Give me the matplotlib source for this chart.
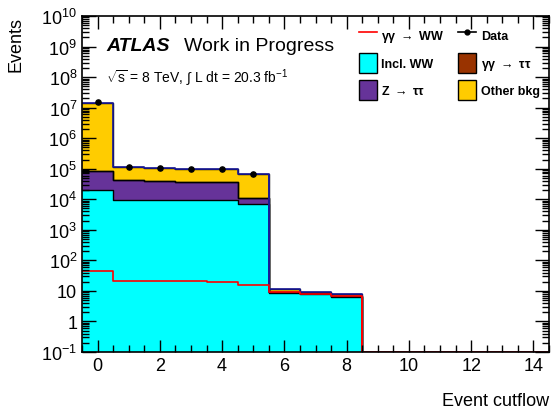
import matplotlib
matplotlib.use("Agg")
import matplotlib.pyplot as plt
import numpy as np
from matplotlib.lines import Line2D
from matplotlib.patches import Patch
from matplotlib.ticker import LogLocator, MultipleLocator, FuncFormatter

plt.rcParams['font.family'] = ['Liberation Sans', 'DejaVu Sans']
plt.rcParams['mathtext.fontset'] = 'custom'
plt.rcParams['mathtext.rm'] = 'Liberation Sans'
plt.rcParams['mathtext.it'] = 'Liberation Sans:italic'
plt.rcParams['mathtext.bf'] = 'Liberation Sans:bold'
# ROOT-style ticks on all four sides, pointing in
plt.rcParams['xtick.direction'] = 'in'
plt.rcParams['ytick.direction'] = 'in'
plt.rcParams['xtick.top'] = True
plt.rcParams['ytick.right'] = True
plt.rcParams['xtick.major.size'] = 9
plt.rcParams['xtick.minor.size'] = 5
plt.rcParams['ytick.major.size'] = 10
plt.rcParams['ytick.minor.size'] = 5
plt.rcParams['xtick.major.width'] = 1
plt.rcParams['xtick.minor.width'] = 1
plt.rcParams['ytick.major.width'] = 1
plt.rcParams['ytick.minor.width'] = 1
plt.rcParams['xtick.labelsize'] = 13
plt.rcParams['ytick.labelsize'] = 13
plt.rcParams['axes.axisbelow'] = False

# cutflow bins 0..14
edges = np.arange(-0.5, 15.0, 1.0)
incl_ww = np.array([2.05e4, 9.7e3, 9.6e3, 9.4e3, 9.2e3, 7.0e3, 8.3, 7.8, 6.3, 0, 0, 0, 0, 0, 0])
z_tautau = np.array([6.2e4, 3.2e4, 2.9e4, 2.8e4, 2.7e4, 3.7e3, 0.5, 0.4, 0.3, 0, 0, 0, 0, 0, 0])
aa_tautau = np.array([20, 10, 10, 10, 9, 8, 0.3, 0.2, 0.2, 0, 0, 0, 0, 0, 0])
other_bkg = np.array([1.44e7, 7.0e4, 6.6e4, 6.3e4, 6.4e4, 5.6e4, 2.0, 1.0, 1.2, 0, 0, 0, 0, 0, 0])
aa_ww = np.array([44, 21.6, 21, 20.5, 20, 16, 9, 8.1, 6.9, 0, 0, 0, 0, 0, 0])
data_x = np.array([0, 1, 2, 3, 4, 5])
data_y = np.array([1.5e7, 1.1e5, 1.05e5, 1.0e5, 1.0e5, 6.5e4])

c_ww = '#00ffff'
c_ztt = '#663399'
c_aatt = '#993300'
c_other = '#ffcc00'


def ext(v):
    # repeat last bin so step='post' covers the full last bin
    return np.append(v, v[-1])


def fmt(v, pos):
    e = int(round(np.log10(v)))
    if e == 0:
        return '1'
    if e == 1:
        return '10'
    return r'$10^{%d}$' % e


fig = plt.figure(figsize=(5.52, 4.10), dpi=100)
ax = fig.add_axes([0.1486, 0.139, 0.8460, 0.8195])
ax.set_yscale('log')

ymin = 0.1
base = np.full(len(incl_ww), ymin)
for vals, col in [(incl_ww, c_ww), (z_tautau, c_ztt), (aa_tautau, c_aatt), (other_bkg, c_other)]:
    top = base + vals
    ax.fill_between(edges, ext(base), ext(top), step='post', color=col, lw=0, zorder=1)
    ax.step(edges, ext(top), where='post', color='black', lw=1, zorder=1.2)
    base = top

total = base
ax.step(edges, ext(total), where='post', color='#1a1a99', lw=1.2, zorder=1.3)
ax.vlines(5.5, incl_ww[6] + ymin, total[5], color='#1a1a99', lw=1.2, zorder=1.3)
ax.step(edges, ext(np.clip(aa_ww, ymin, None)), where='post', color='red', lw=1.2, zorder=1.4)
ax.vlines(8.5, ymin, aa_ww[8], color='red', lw=1.2, zorder=1.4)
ax.scatter(data_x, data_y, s=14, color='black', zorder=4)

ax.set_xlim(-0.5, 14.5)
ax.set_ylim(1e-1, 1e10)
ax.xaxis.set_major_locator(MultipleLocator(2))
ax.xaxis.set_minor_locator(MultipleLocator(0.5))
ax.yaxis.set_major_locator(LogLocator(base=10, numticks=30))
ax.yaxis.set_minor_locator(LogLocator(base=10, subs=np.arange(2, 10), numticks=300))
ax.yaxis.set_major_formatter(FuncFormatter(fmt))
for s in ax.spines.values():
    s.set_linewidth(1.2)

ax.set_xlabel('Event cutflow', fontsize=13, loc='right', labelpad=13)
ax.set_ylabel('Events', fontsize=13, loc='top', labelpad=12)

ax.text(0.052, 0.913, 'ATLAS', transform=ax.transAxes, fontsize=14,
        fontweight='bold', fontstyle='italic', va='center')
ax.text(0.218, 0.913, 'Work in Progress', transform=ax.transAxes, fontsize=14, va='center')
ax.text(0.052, 0.818, r'$\sqrt{\mathrm{s}}$ = 8 TeV, $\int$ L dt = 20.3 fb$^{-1}$',
        transform=ax.transAxes, fontsize=10, va='center')

handles = [
    Line2D([], [], color='red', lw=1.2),
    Patch(facecolor=c_ww, edgecolor='black'),
    Patch(facecolor=c_ztt, edgecolor='black'),
    Line2D([], [], color='black', marker='o', ms=3.5, lw=1.2),
    Patch(facecolor=c_aatt, edgecolor='black'),
    Patch(facecolor=c_other, edgecolor='black'),
]
labels = [r'$\mathregular{\gamma\gamma\ \rightarrow}$ WW', 'Incl. WW',
          r'Z $\mathregular{\rightarrow\ \tau\tau}$',
          'Data', r'$\mathregular{\gamma\gamma\ \rightarrow\ \tau\tau}$', 'Other bkg']
leg = ax.legend(handles, labels, ncol=2, frameon=False, loc='upper left',
                bbox_to_anchor=(0.593, 0.972), prop={'weight': 'bold', 'size': 9},
                handlelength=1.45, handleheight=2.1, labelspacing=0.57,
                columnspacing=1.1, handletextpad=0.35, borderaxespad=0, borderpad=0)

fig.savefig('out.png', dpi=100)
